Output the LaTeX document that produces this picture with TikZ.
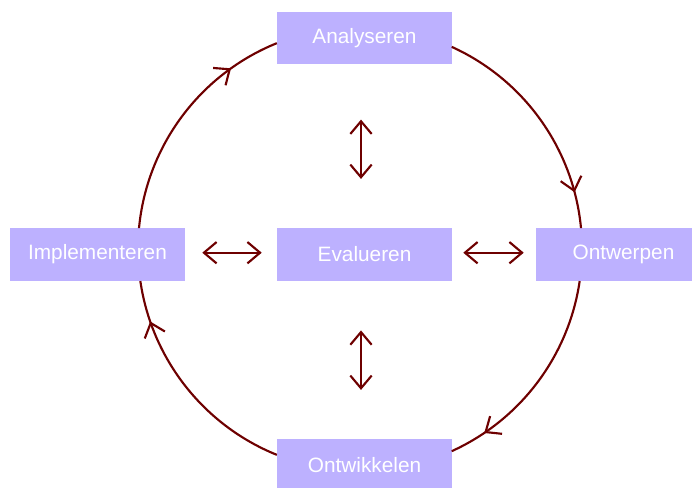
\documentclass[tikz,border=0pt]{standalone}
\usepackage{fontspec}
\setmainfont{Liberation Sans}
\usetikzlibrary{arrows.meta,calc,decorations.markings}
\definecolor{boxfill}{RGB}{189,177,255}
\definecolor{cycline}{RGB}{110,0,0}
\begin{document}
\begin{tikzpicture}[x=0.75pt,y=0.75pt,
  phase/.style={fill=boxfill,draw=none,minimum width=131.25pt,minimum height=39.5pt,
    inner sep=0pt,text=white,font=\fontsize{15.6pt}{18pt}\selectfont},
  barb/.tip={Straight Barb[length=9.5pt,width=16pt]},
  link/.style={draw=cycline,line width=1.6pt,barb-barb},
  flow/.style={draw=cycline,line width=1.6pt,postaction={decorate},
    decoration={markings,mark=at position #1 with {\arrow[cycline]{barb}}}}]
\useasboundingbox (0,0) rectangle (692,-487);

% phases of the cycle
\node[phase] (ana) at (364.5,-38)    {Analyseren};
\node[phase] (eva) at (364.5,-254.5) {Evalueren};
\node[phase] (imp) at (97.5,-254.5)  {Implementeren};
\node[phase] (ont) at (623.5,-254.5) {Ontwerpen};
\node[phase] (dev) at (364.5,-465.5) {Ontwikkelen};

% the cycle is a circle; each arc runs from one box edge to the next
\coordinate (c) at (360,-249);
\def\rad{222}
\coordinate (impT) at ($(c)+(174.6:\rad)$);
\coordinate (anaR) at ($(c)+(65.6:\rad)$);
\coordinate (ontB) at ($(c)+(-8.3:\rad)$);
\coordinate (devL) at ($(c)+(-112:\rad)$);

\draw[flow=0.784] (impT) arc[start angle=174.6,end angle=112,radius=\rad];
\draw[flow=0.844] (anaR) arc[start angle=65.6,end angle=5.4,radius=\rad];
\draw[flow=0.832] (ontB) arc[start angle=-8.3,end angle=-65.6,radius=\rad];
\draw[flow=0.82]  (devL) arc[start angle=-112,end angle=-171.7,radius=\rad];

% evaluation links to every phase
\draw[link,shorten <=41.25pt,shorten >=36.75pt]
  ($(ana.south)+(-3.5,0)$) -- ($(eva.north)+(-3.5,0)$);
\draw[link,shorten <=37pt,shorten >=36.75pt]
  ($(eva.south)+(-3.5,0)$) -- ($(dev.north)+(-3.5,0)$);
\draw[link,shorten <=11.25pt,shorten >=12.75pt]
  ($(eva.west)+(0,1.8)$) -- ($(imp.east)+(0,1.8)$);
\draw[link,shorten <=8.25pt,shorten >=9pt]
  ($(eva.east)+(0,1.8)$) -- ($(ont.west)+(0,1.8)$);
\end{tikzpicture}
\end{document}
